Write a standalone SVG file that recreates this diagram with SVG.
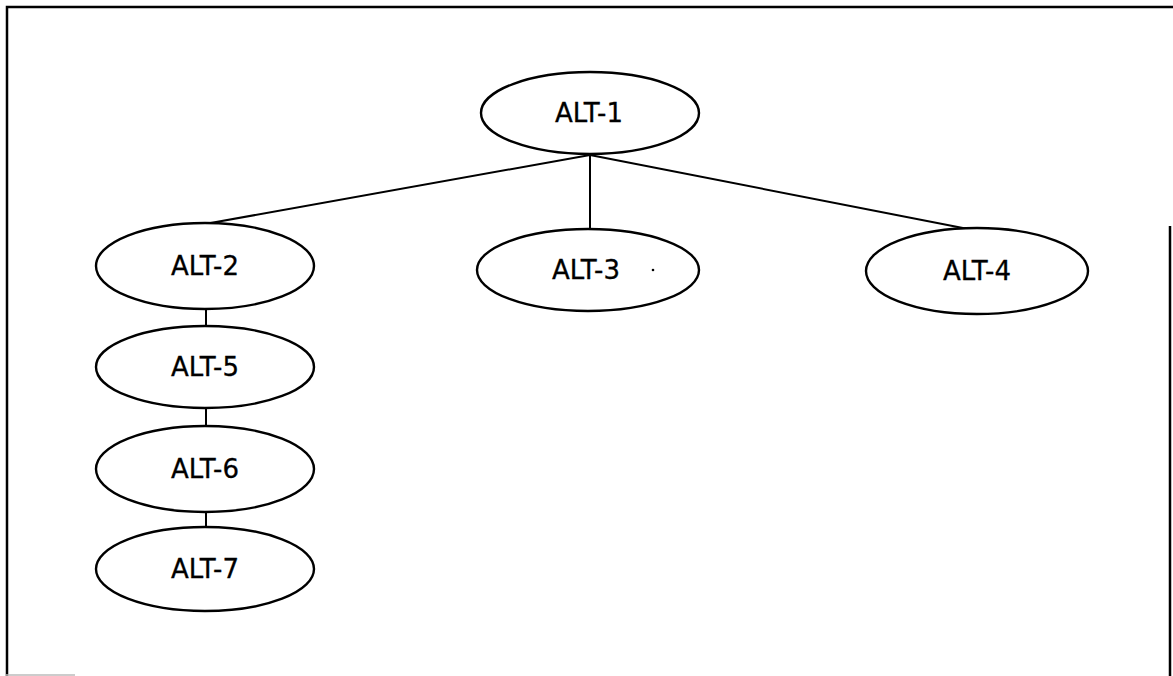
<svg xmlns="http://www.w3.org/2000/svg" width="1173" height="676" viewBox="0 0 1173 676">
<style>
.node ellipse{fill:#fff;stroke:#000;stroke-width:2.4}
.node text{font-family:"DejaVu Sans","Liberation Sans",Arial,sans-serif;font-size:26px;fill:#000;stroke:#000;stroke-width:0.3;text-anchor:middle}
.conn line{stroke:#000;stroke-width:2}
.frame{stroke:#000;stroke-width:2.5;fill:none}
</style>
<rect width="1173" height="676" fill="#fff"/>
<path class="frame" d="M7,676 V7 H1173"/>
<line class="frame" x1="1170" y1="226" x2="1170" y2="676"/>
<line x1="6" y1="675" x2="75" y2="675" stroke="#bbb" stroke-width="1.5"/>
<g class="conn">
<line x1="590" y1="155" x2="205" y2="224"/>
<line x1="590" y1="155" x2="590" y2="230"/>
<line x1="590" y1="155" x2="968" y2="229"/>
<line x1="206" y1="309" x2="206" y2="326"/>
<line x1="206" y1="409" x2="206" y2="426"/>
<line x1="206" y1="512" x2="206" y2="527"/>
</g>
<g id="alt1" class="node"><ellipse cx="590" cy="113" rx="109" ry="41"/><text x="589" y="122">ALT-1</text></g>
<g id="alt2" class="node"><ellipse cx="205" cy="266" rx="109" ry="43"/><text x="205" y="275">ALT-2</text></g>
<g id="alt3" class="node"><ellipse cx="588" cy="270" rx="111" ry="41"/><text x="586" y="279">ALT-3</text><circle cx="653" cy="270" r="1.3" fill="#000"/></g>
<g id="alt4" class="node"><ellipse cx="977" cy="271" rx="111" ry="43"/><text x="977" y="280">ALT-4</text></g>
<g id="alt5" class="node"><ellipse cx="205" cy="367" rx="109" ry="41"/><text x="205" y="376">ALT-5</text></g>
<g id="alt6" class="node"><ellipse cx="205" cy="469" rx="109" ry="43"/><text x="205" y="478">ALT-6</text></g>
<g id="alt7" class="node"><ellipse cx="205" cy="569" rx="109" ry="42"/><text x="205" y="578">ALT-7</text></g>
</svg>
